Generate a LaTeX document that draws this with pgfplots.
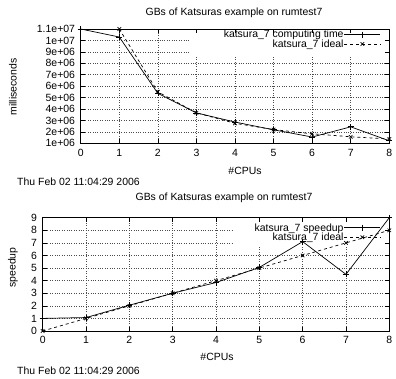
\documentclass[border=0pt]{standalone}
\usepackage{pgfplots}
\pgfplotsset{compat=1.18}
\usepackage{fontspec}
\setmainfont{Liberation Sans}
\begin{document}
\fontsize{10.5}{12}\selectfont
\begin{tikzpicture}
\useasboundingbox (0bp,0bp) rectangle (396bp,-379bp);
\pgfplotsset{gp/.style={
  scale only axis, anchor=south west, xmin=0, xmax=8, xtick={0,...,8},
  clip=false,
  grid=major, grid style={dotted, gray!60!black, line width=0.5pt},
  tick align=inside, major tick length=4bp,
  tick style={black, line width=0.6pt},
  axis line style={black, line width=0.8pt},
  /pgf/number format/assume math mode=true,
  tick label style={font=\fontsize{10.5}{12}\selectfont},
  xticklabel style={yshift=-2bp},
  yticklabel style={xshift=-2bp},
  scaled y ticks=false,
  legend plot pos=right,
  legend cell align=right,
  legend style={draw=none, fill=none, inner sep=0pt, row sep=0pt,
    nodes={inner sep=0.5bp, text height=7.5bp, text depth=1bp, font=\fontsize{10.5}{12}\selectfont},
    /tikz/every even column/.append style={column sep=3bp}},
  legend image code/.code={\draw[mark repeat=2,mark phase=2,##1] plot coordinates {(0bp,0bp) (18bp,0bp) (36bp,0bp)};},
}}
% ---------- top chart ----------
\begin{axis}[gp, at={(80.7bp,-143.3bp)}, width=308.6bp, height=114.3bp,
  ymin=1e6, ymax=1.1e7,
  ytick={1e6,2e6,3e6,4e6,5e6,6e6,7e6,8e6,9e6,1e7,1.1e7},
  yticklabels={1e+06,2e+06,3e+06,4e+06,5e+06,6e+06,7e+06,8e+06,9e+06,1e+07,1.1e+07},
  legend style={at={(axis description cs:0.973,0.995)}, anchor=north east}]
\fill[white] (axis cs:2.83,8.6e6) rectangle (axis cs:7.89,1.065e7);
\addplot[black, line width=0.7pt, mark=+, mark size=3bp, mark options={solid}] coordinates {
 (0,1.1e7) (1,1.03e7) (2,5.37e6) (3,3.66e6) (4,2.86e6) (5,2.18e6) (6,1.55e6) (7,2.44e6) (8,1.22e6)};
\addlegendentry{katsura\_7 computing time}
\addplot[black, line width=0.7pt, dashed, mark=x, mark size=2.5bp, mark options={solid}] coordinates {
 (1,1.1e7) (2,5.5e6) (3,3.667e6) (4,2.75e6) (5,2.2e6) (6,1.833e6) (7,1.571e6) (8,1.375e6)};
\addlegendentry{katsura\_7 ideal}
\end{axis}
\node at (234bp,-13bp) {GBs of Katsuras example on rumtest7};
\node at (245bp,-171bp) {\#CPUs};
\node[rotate=90] at (13bp,-87bp) {milliseconds};
\node[anchor=west, inner sep=0pt] at (17bp,-181.5bp) {Thu Feb 02 11:04:29 2006};
% ---------- bottom chart ----------
\begin{axis}[gp, at={(42.7bp,-331bp)}, width=346.6bp, height=113.3bp,
  ymin=0, ymax=9, ytick={0,...,9},
  legend style={at={(axis description cs:0.976,0.955)}, anchor=north east}]
\fill[white] (axis cs:4.4,6.75) rectangle (axis cs:7.9,8.68);
\addplot[black, line width=0.7pt, mark=+, mark size=3bp, mark options={solid}] coordinates {
 (0,1) (1,1.07) (2,2.05) (3,3.0) (4,3.85) (5,5.05) (6,7.1) (7,4.5) (8,9)};
\addlegendentry{katsura\_7 speedup}
\addplot[black, line width=0.7pt, dashed, mark=x, mark size=2.5bp, mark options={solid}] coordinates {
 (0,0) (1,1) (2,2) (3,3) (4,4) (5,5) (6,6) (7,7) (8,8)};
\addlegendentry{katsura\_7 ideal}
\end{axis}
\node at (224bp,-198bp) {GBs of Katsuras example on rumtest7};
\node at (217bp,-357bp) {\#CPUs};
\node[rotate=90] at (13bp,-267.5bp) {speedup};
\node[anchor=west, inner sep=0pt] at (17bp,-371bp) {Thu Feb 02 11:04:29 2006};
\end{tikzpicture}
\end{document}
